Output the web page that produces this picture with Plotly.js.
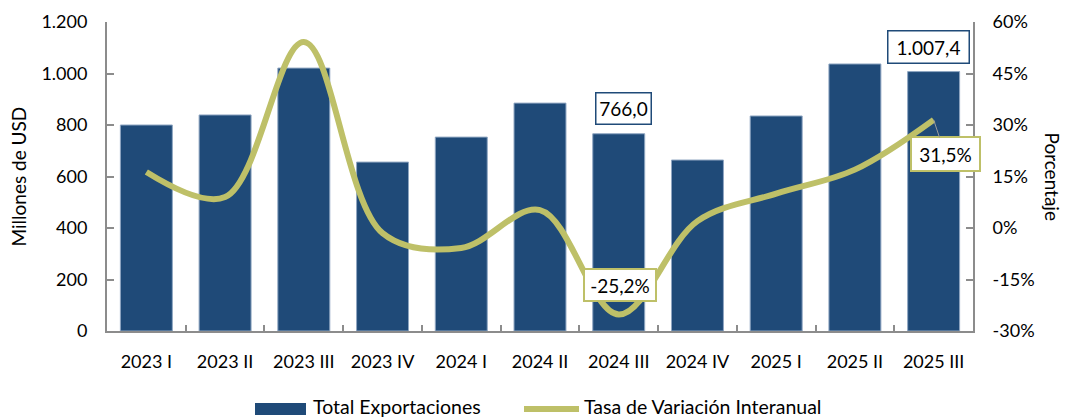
<!DOCTYPE html>
<html>
<head>
<meta charset="utf-8">
<script src="https://cdn.plot.ly/plotly-3.0.1.min.js"></script>
<style>
html,body{margin:0;padding:0;background:#fff;}
#chart{width:1066px;height:419px;}
</style>
</head>
<body>
<div id="chart"></div>
<script>
// ---- data ----
const categories = ["2023 I","2023 II","2023 III","2023 IV","2024 I","2024 II","2024 III","2024 IV","2025 I","2025 II","2025 III"];
const exportValues = [800, 839, 1021, 656, 753, 885, 766.0, 664, 835, 1037, 1007.4];
const growthRates = [16.3, 9.0, 54.2, -1.5, -5.8, 5.2, -25.2, 2.0, 10.0, 17.0, 31.5];
const leftTickVals = [0, 200, 400, 600, 800, 1000, 1200];
const leftTickText = ["0", "200", "400", "600", "800", "1.000", "1.200"];
const rightTickVals = [-30, -15, 0, 15, 30, 45, 60];
const rightTickText = ["-30%", "-15%", "0%", "15%", "30%", "45%", "60%"];
const barName = "Total Exportaciones";
const lineName = "Tasa de Variación Interanual";

// ---- helpers ----
function fmtEs(v, dec) {
  const parts = v.toFixed(dec).split(".");
  const neg = parts[0].startsWith("-");
  let intPart = neg ? parts[0].slice(1) : parts[0];
  intPart = intPart.replace(/\B(?=(\d{3})+(?!\d))/g, ".");
  return (neg ? "-" : "") + intPart + (dec > 0 ? "," + parts[1] : "");
}

const barColor = "#1F4A78";
const lineColor = "#BEC068";
const axisColor = "#8C8C8C";
const FONT = "Lato, 'Open Sans', sans-serif";

// plot area geometry (px)
const L = 107, R = 973, T = 22, B = 331, W = 1066, H = 419;
const pw = R - L, ph = B - T;
const px = x => (x - L) / pw;
const py = y => (B - y) / ph;

const traces = [
  {
    type: "bar", x: categories, y: exportValues, name: barName,
    marker: {color: barColor, line: {color: "#8FA6C2", width: 1}},
    yaxis: "y", showlegend: false, hoverinfo: "x+y"
  },
  {
    type: "scatter", mode: "lines", x: categories, y: growthRates, name: lineName,
    line: {color: lineColor, width: 6, shape: "spline", smoothing: 1.0},
    yaxis: "y2", showlegend: false
  }
];

const labelFont = {family: FONT, size: 19, color: "#000"};
const i766 = 6, i1007 = 10;
const annotations = [
  // value labels
  {x: categories[i766], y: exportValues[i766], xref: "x", yref: "y",
   text: fmtEs(exportValues[i766], 1), showarrow: false, yanchor: "bottom", yshift: 9, xshift: 5,
   width: 50, height: 26, align: "center", valign: "middle",
   font: labelFont, bgcolor: "#fff", bordercolor: barColor, borderwidth: 1.5, borderpad: 2},
  {x: categories[i1007], y: exportValues[i1007], xref: "x", yref: "y",
   text: fmtEs(exportValues[i1007], 1), showarrow: false, yanchor: "bottom", yshift: 8, xshift: -5,
   width: 76, height: 27, align: "center", valign: "middle",
   font: labelFont, bgcolor: "#fff", bordercolor: barColor, borderwidth: 1.5, borderpad: 2},
  {x: categories[i766], y: growthRates[i766], xref: "x", yref: "y2",
   text: fmtEs(growthRates[i766], 1) + "%", showarrow: false, yanchor: "middle", yshift: 30, xshift: 1,
   width: 66, height: 26, align: "center", valign: "middle",
   font: labelFont, bgcolor: "#fff", bordercolor: lineColor, borderwidth: 2, borderpad: 2},
  {x: categories[i1007], y: growthRates[i1007], xref: "x", yref: "y2",
   text: fmtEs(growthRates[i1007], 1) + "%", showarrow: true, arrowhead: 0, arrowwidth: 1, arrowcolor: "#9A9A9A",
   ax: 11.5, ay: 34.5, standoff: 0,
   width: 63, height: 28, align: "center", valign: "middle",
   font: labelFont, bgcolor: "#fff", bordercolor: lineColor, borderwidth: 2, borderpad: 2},
  // axis titles
  {x: 0, y: 0.5, xref: "paper", yref: "paper", xshift: -89, text: "Millones de USD", textangle: -90,
   showarrow: false, xanchor: "center", yanchor: "middle", font: {family: FONT, size: 19, color: "#000"}},
  {x: 1, y: 0.5, xref: "paper", yref: "paper", xshift: 79, text: "Porcentaje", textangle: 90,
   showarrow: false, xanchor: "center", yanchor: "middle", font: {family: FONT, size: 19, color: "#000"}},
  // legend texts
  {x: px(311), y: py(406.5), xref: "paper", yref: "paper", text: barName, showarrow: false,
   xanchor: "left", yanchor: "middle", font: {family: FONT, size: 19.5, color: "#000"}},
  {x: px(582), y: py(406.5), xref: "paper", yref: "paper", text: lineName, showarrow: false,
   xanchor: "left", yanchor: "middle", font: {family: FONT, size: 19.5, color: "#000"}}
];

const shapes = [
  {type: "rect", xref: "paper", yref: "paper", x0: px(255), x1: px(306), y0: py(403), y1: py(415),
   fillcolor: barColor, line: {width: 0}},
  {type: "line", xref: "paper", yref: "paper", x0: px(524), x1: px(579), y0: py(409), y1: py(409),
   line: {color: lineColor, width: 6}}
];

const layout = {
  width: W, height: H,
  margin: {l: L, r: W - R, t: T, b: H - B, pad: 0},
  paper_bgcolor: "#fff", plot_bgcolor: "#fff",
  separators: ",.",
  font: {family: FONT, size: 18, color: "#000"},
  bargap: 0.34,
  showlegend: false,
  xaxis: {
    type: "category", range: [-0.5, categories.length - 0.5], autorange: false,
    showgrid: false, zeroline: false,
    showline: true, linecolor: axisColor, linewidth: 2,
    ticks: "inside", tickson: "boundaries", ticklen: 6, tickcolor: axisColor, tickwidth: 2,
    ticklabelstandoff: 13, tickfont: {family: FONT, size: 18, color: "#000"}
  },
  yaxis: {
    range: [0, 1200], autorange: false, tickvals: leftTickVals, ticktext: leftTickText,
    showgrid: false, zeroline: false, showline: true, linecolor: axisColor, linewidth: 2,
    ticks: "inside", ticklen: 7, tickcolor: axisColor, tickwidth: 2,
    ticklabelstandoff: 14, tickfont: {family: FONT, size: 18, color: "#000"}
  },
  yaxis2: {
    overlaying: "y", side: "right", range: [-30, 60], autorange: false, tickvals: rightTickVals, ticktext: rightTickText,
    showgrid: false, zeroline: false, showline: true, linecolor: axisColor, linewidth: 2,
    ticks: "inside", ticklen: 7, tickcolor: axisColor, tickwidth: 2,
    ticklabelstandoff: 14, tickfont: {family: FONT, size: 18, color: "#000"}
  },
  annotations: annotations,
  shapes: shapes
};

Plotly.newPlot("chart", traces, layout, {staticPlot: true, displayModeBar: false});
</script>
</body>
</html>
